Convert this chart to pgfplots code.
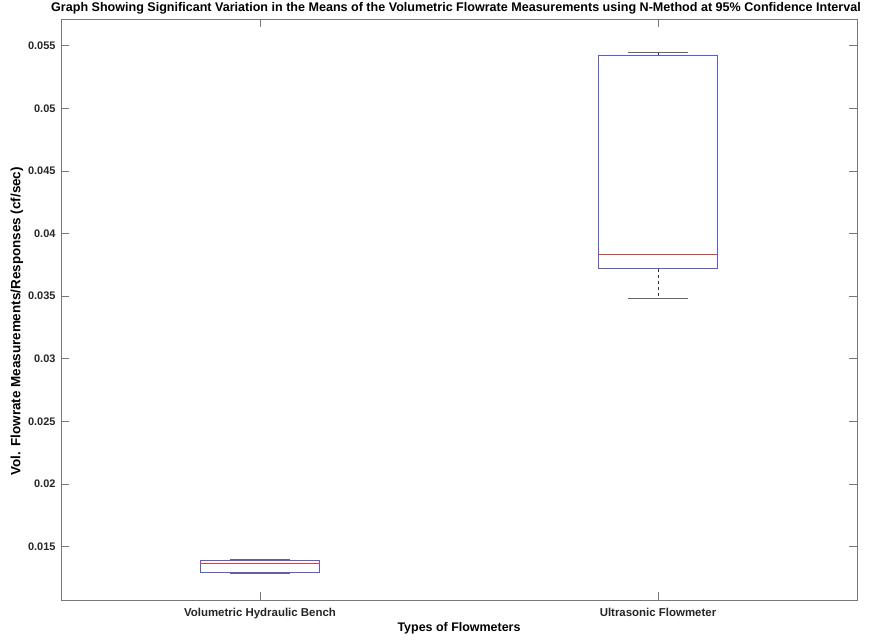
\documentclass[border=0pt]{standalone}
\usepackage{fontspec}
\setmainfont{Liberation Sans}
\usepackage{pgfplots}
\pgfplotsset{compat=1.18}
\definecolor{axgray}{RGB}{120,120,120}
\definecolor{boxblue}{RGB}{90,90,220}
\definecolor{medred}{RGB}{230,60,60}
\begin{document}
\begin{tikzpicture}
\useasboundingbox (-61bp,-40bp) rectangle (811bp,600bp);
\begin{axis}[
  at={(0,0)}, anchor=south west,
  scale only axis, width=796bp, height=581bp,
  xmin=0.5, xmax=2.5,
  ymin=10.74, ymax=57.13,
  xtick={1,2},
  xticklabels={Volumetric Hydraulic Bench, Ultrasonic Flowmeter},
  ytick={15,20,25,30,35,40,45,50,55},
  yticklabels={0.015,0.02,0.025,0.03,0.035,0.04,0.045,0.05,0.055},
  tick label style={font=\fontsize{11}{13}\selectfont\bfseries, text=black!85},
  tick align=inside,
  major tick length=8bp,
  axis line style={axgray, line width=0.6pt},
  every tick/.style={axgray, line width=0.6pt},
  xticklabel style={font=\fontsize{11.5}{13}\selectfont\bfseries, anchor=base, yshift=-16.5bp},
  yticklabel style={xshift=-2bp},
  ylabel={Vol. Flowrate Measurements/Responses (cf/sec)},
  xlabel={Types of Flowmeters},
  ylabel style={font=\fontsize{13.5}{15}\selectfont\bfseries, at={(axis description cs:0,0.48)}, anchor=center, yshift=44bp},
  xlabel style={font=\fontsize{12.5}{14}\selectfont\bfseries, at={(axis description cs:0.5,0)}, anchor=center, yshift=-28bp},
  title={Graph Showing Significant Variation in the Means of the Volumetric Flowrate Measurements using N-Method at 95\% Confidence Interval},
  title style={font=\fontsize{12.6}{15}\selectfont\bfseries, at={(axis description cs:0.5,1)}, anchor=base, yshift=1.8bp, xshift=-3bp},
]
% --- Volumetric Hydraulic Bench (position 1) ---
% whiskers (dashed)
\addplot[black!80, dashed, line width=0.6pt] coordinates {(1,13.94) (1,14.02)};
\addplot[black!80, dashed, line width=0.6pt] coordinates {(1,12.92) (1,12.84)};
% caps
\addplot[black!60, line width=0.7pt] coordinates {(0.925,14.02) (1.075,14.02)};
\addplot[black!60, line width=0.7pt] coordinates {(0.925,12.84) (1.075,12.84)};
% box
\addplot[boxblue, line width=0.6pt] coordinates {(0.85,12.92) (1.15,12.92) (1.15,13.94) (0.85,13.94) (0.85,12.92)};
% median
\addplot[medred, line width=0.7pt] coordinates {(0.85,13.67) (1.15,13.67)};
% --- Ultrasonic Flowmeter (position 2) ---
\addplot[black!80, dashed, line width=0.6pt] coordinates {(2,54.23) (2,54.47)};
\addplot[black!80, dashed, line width=0.6pt] coordinates {(2,37.20) (2,34.86)};
\addplot[black!60, line width=0.7pt] coordinates {(1.925,54.47) (2.075,54.47)};
\addplot[black!60, line width=0.7pt] coordinates {(1.925,34.86) (2.075,34.86)};
\addplot[boxblue, line width=0.6pt] coordinates {(1.85,37.20) (2.15,37.20) (2.15,54.23) (1.85,54.23) (1.85,37.20)};
\addplot[medred, line width=0.7pt] coordinates {(1.85,38.34) (2.15,38.34)};
\end{axis}
\end{tikzpicture}
\end{document}
